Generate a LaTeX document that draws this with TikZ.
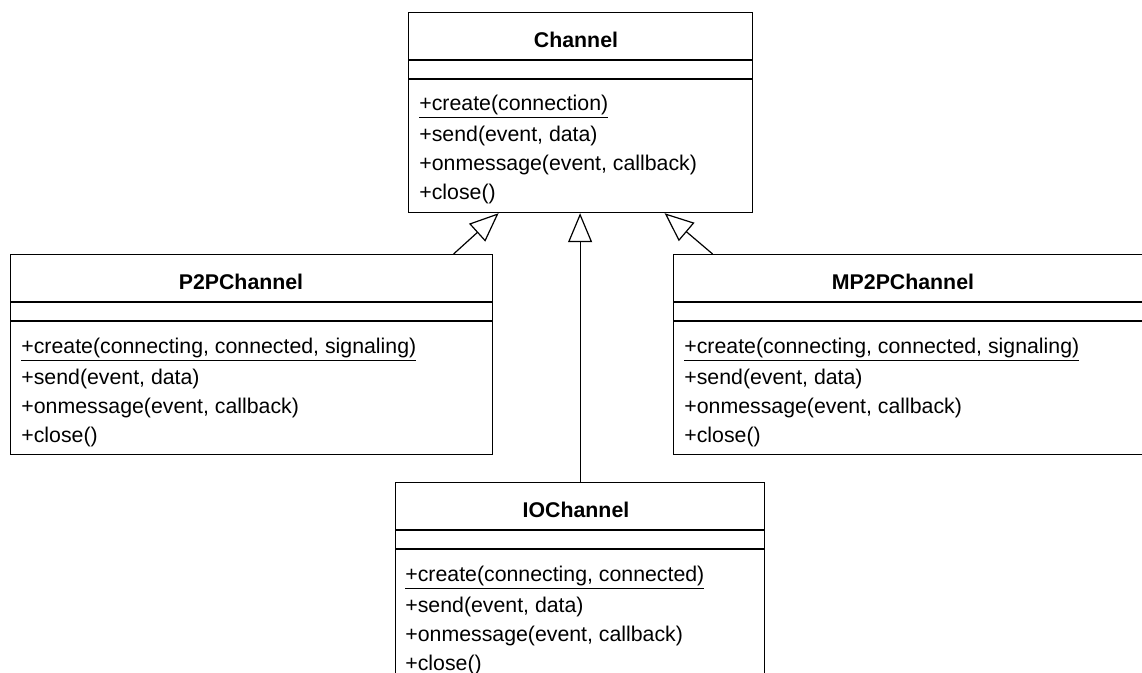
\documentclass[tikz,border=0pt]{standalone}
\usepackage{fontspec}
\setmainfont{Liberation Sans}
\usetikzlibrary{arrows.meta}

\tikzset{
  classbox/.style={draw, line width=0.6pt, anchor=north west, inner sep=0pt},
  classname/.style={font=\fontsize{10.65}{13}\selectfont\bfseries, inner sep=0pt},
  member/.style={font=\fontsize{10.65}{13}\selectfont, anchor=west, inner sep=0pt},
  compart/.style={line width=0.6pt},
  extends/.style={-{Triangle[open, length=14.5pt, width=12pt]}, line width=0.6pt},
}

\begin{document}
\begin{tikzpicture}[x=0.5pt, y=-0.5pt]
\useasboundingbox (0,0) rectangle (1142,673);
\clip (0,0) rectangle (1142,673);

% Channel
\node(channel) at (408,12)[classbox, minimum width=172pt, minimum height=100pt] {};
\draw [compart] ([yshift=-24pt]channel.north west) -- ([yshift=-24pt]channel.north east);
\draw [compart] ([yshift=-33.5pt]channel.north west) -- ([yshift=-33.5pt]channel.north east);
\node(channelname)  at (576,40) [classname] {Channel};
\node(channelcreate) at (419,107)[member]   {\underline{+create(connection)}};
\node(channelsend)  at (419,136)[member]    {+send(event, data)};
\node(channelmsg)   at (419,165)[member]    {+onmessage(event, callback)};
\node(channelclose) at (419,194)[member]    {+close()};

% P2PChannel
\node(p2p) at (10,254)[classbox, minimum width=241pt, minimum height=100pt] {};
\draw [compart] ([yshift=-24pt]p2p.north west) -- ([yshift=-24pt]p2p.north east);
\draw [compart] ([yshift=-33.5pt]p2p.north west) -- ([yshift=-33.5pt]p2p.north east);
\node(p2pname)   at (241,282)[classname] {P2PChannel};
\node(p2pcreate) at (21,350) [member]    {\underline{+create(connecting, connected, signaling)}};
\node(p2psend)   at (21,379) [member]    {+send(event, data)};
\node(p2pmsg)    at (21,408) [member]    {+onmessage(event, callback)};
\node(p2pclose)  at (21,437) [member]    {+close()};

% MP2PChannel
\node(mp2p) at (673,254)[classbox, minimum width=241pt, minimum height=100pt] {};
\draw [compart] ([yshift=-24pt]mp2p.north west) -- ([yshift=-24pt]mp2p.north east);
\draw [compart] ([yshift=-33.5pt]mp2p.north west) -- ([yshift=-33.5pt]mp2p.north east);
\node(mp2pname)   at (903,282)[classname] {MP2PChannel};
\node(mp2pcreate) at (684,350)[member]    {\underline{+create(connecting, connected, signaling)}};
\node(mp2psend)   at (684,379)[member]    {+send(event, data)};
\node(mp2pmsg)    at (684,408)[member]    {+onmessage(event, callback)};
\node(mp2pclose)  at (684,437)[member]    {+close()};

% IOChannel
\node(io) at (395,482)[classbox, minimum width=184.5pt, minimum height=100pt] {};
\draw [compart] ([yshift=-24pt]io.north west) -- ([yshift=-24pt]io.north east);
\draw [compart] ([yshift=-33.5pt]io.north west) -- ([yshift=-33.5pt]io.north east);
\node(ioname)   at (576,510)[classname] {IOChannel};
\node(iocreate) at (405,578)[member]    {\underline{+create(connecting, connected)}};
\node(iosend)   at (405,607)[member]    {+send(event, data)};
\node(iomsg)    at (405,636)[member]    {+onmessage(event, callback)};
\node(ioclose)  at (405,665)[member]    {+close()};

% generalisation
\draw [extends] ([xshift=101pt]p2p.north) -- ([xshift=-41pt]channel.south);
\draw [extends] ([xshift=-101pt]mp2p.north) -- ([xshift=42pt]channel.south);
\draw [extends] (io.north) -- (io.north |- channel.south);

\end{tikzpicture}
\end{document}
